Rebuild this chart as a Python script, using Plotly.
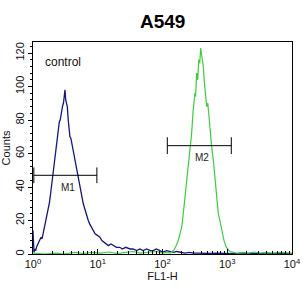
import math
import plotly.graph_objects as go

# ---- data ----
control_fl1 = [1.0, 1.02, 1.035, 1.07, 1.1, 1.14, 1.2, 1.26, 1.33, 1.38, 1.44, 1.5, 1.58, 1.64, 1.72, 1.8, 1.87,
               1.95, 2.03, 2.1, 2.19, 2.27, 2.35, 2.46, 2.55, 2.63, 2.7, 2.77, 2.85, 2.95, 3.03, 3.12, 3.2, 3.3,
               3.39, 3.5, 3.6, 3.72, 3.85, 3.98, 4.1, 4.19, 4.32, 4.47, 4.6, 4.73, 5.0, 5.32, 5.6, 5.98, 6.3,
               6.7, 7.14, 7.5, 7.94, 8.2, 8.53, 9.1, 10.0, 10.8, 11.6, 12.6, 13.5, 14.6, 16.0, 17.8, 19.5,
               21.9, 24.0, 27.0, 31.6, 35.0, 40.0, 44.7, 50.0, 57.0, 64.6, 72.0, 80.0, 91.2, 100.0, 115.0,
               132.0, 150.0, 165.0, 186.0, 220.0, 260.0, 300.0, 380.0, 500.0, 700.0, 1096.0, 1500.0, 2500.0,
               4000.0, 6000.0, 10000.0]
control_counts = [14, 6, 1, 3, 2, 4.4, 6, 8, 10, 9, 12.5, 15, 18, 22, 26, 31, 36,
                  42, 47, 53, 58, 63, 70, 74, 79, 80, 83, 84, 88, 90, 95, 98, 92, 90,
                  88, 80, 76, 70, 69, 66, 62, 60, 58, 55, 52, 50, 45, 40, 36, 30, 27,
                  23, 20, 18, 16, 15, 14, 12, 11, 10, 8, 7, 6, 5, 6, 5, 4,
                  4, 3, 4, 3, 3, 2, 3, 2, 3, 2, 2, 3, 2, 1, 2,
                  1.5, 1, 1.5, 1, 0.5, 1, 0.5, 0.5, 0.3, 0.5, 0.3, 0, 0.3,
                  0, 0.3, 0]

a549_fl1 = [1.0, 1.5, 2.2, 3.0, 4.5, 6.0, 8.0, 11.0, 15.0, 20.0, 27.0, 35.0, 45.0, 60.0, 80.0, 100.0,
            118.0, 130.6, 141.0, 150.7, 162.0, 175.0, 186.0, 198.0, 209.0, 222.0, 232.0, 242.0, 257.0,
            266.0, 282.0, 295.0, 307.0, 316.0, 324.0, 337.0, 350.0, 363.0, 376.0, 389.0, 398.0, 407.0,
            427.0, 440.0, 457.0, 482.0, 501.0, 528.0, 550.0, 575.0, 617.0, 647.0, 690.0, 728.0, 770.0,
            820.0, 891.0, 957.0, 1030.0, 1104.0, 1250.0, 1400.0, 1700.0, 2100.0, 2600.0, 3200.0,
            4000.0, 5000.0, 6500.0, 8000.0, 10000.0]
a549_counts = [0.5, 0, 0.5, 0, 1, 0.3, 1, 0.5, 1.2, 0.3, 1, 1.5, 0.5, 1, 1.5, 0.5,
               1, 0.6, 1.5, 2.4, 5, 8, 12, 16, 24, 34, 40, 48, 58,
               64, 72, 84, 92, 96, 94, 108, 104, 116, 114, 123, 120, 118,
               112, 104, 98, 88, 90, 78, 72, 64, 54, 44, 36, 24, 20,
               14, 8, 4.4, 2.5, 1.4, 1, 0.6, 1, 0.5, 1.2, 0.6,
               1, 0.5, 1, 0.6, 0.5]

marker_names = ["M1", "M2"]
marker_left = [1.03, 118.6]
marker_right = [9.7, 1155.0]
marker_level = [47, 64.7]
marker_cap = [4.7, 5.0]
marker_label_x = [3.5, 412.0]
marker_label_y = [40, 57.7]

x_ticks = [1, 10, 100, 1000, 10000]
x_ticktext = ["10<sup>0</sup>", "10<sup>1</sup>", "10<sup>2</sup>", "10<sup>3</sup>", "10<sup>4</sup>"]
x_minor = [2, 3, 4, 5, 6, 7, 8, 9, 20, 30, 40, 50, 60, 70, 80, 90, 200, 300, 400, 500, 600, 700, 800, 900,
           2000, 3000, 4000, 5000, 6000, 7000, 8000, 9000]
y_ticks = [0, 20, 40, 60, 80, 100, 120]

FONT = "Arial, Liberation Sans, sans-serif"

fig = go.Figure()
fig.add_trace(go.Scatter(x=control_fl1, y=control_counts, mode="lines",
                         line=dict(color="#15157f", width=1.3), showlegend=False, hoverinfo="skip"))
fig.add_trace(go.Scatter(x=a549_fl1, y=a549_counts, mode="lines",
                         line=dict(color="#3fcc3f", width=1.2), showlegend=False, hoverinfo="skip"))

shapes = []
annotations = []
for i, name in enumerate(marker_names):
    shapes.append(dict(type="line", xref="x", yref="y", x0=marker_left[i], x1=marker_right[i],
                       y0=marker_level[i], y1=marker_level[i], line=dict(color="black", width=1)))
    for xe in (marker_left[i], marker_right[i]):
        shapes.append(dict(type="line", xref="x", yref="y", x0=xe, x1=xe,
                           y0=marker_level[i] - marker_cap[i], y1=marker_level[i] + marker_cap[i],
                           line=dict(color="black", width=1)))
    annotations.append(dict(x=math.log10(marker_label_x[i]), y=marker_label_y[i], xref="x", yref="y",
                            text=name, showarrow=False,
                            font=dict(family=FONT, size=10, color="#222")))

annotations.append(dict(x=0.04, y=0.905, xref="paper", yref="paper", text="control", showarrow=False,
                        xanchor="left", yanchor="middle",
                        font=dict(family=FONT, size=12, color="#111")))
annotations.append(dict(x=0.5, y=1.0, xref="paper", yref="paper", yshift=8, text="<b>A549</b>",
                        showarrow=False, xanchor="center", yanchor="bottom",
                        font=dict(family=FONT, size=19, color="black")))

fig.update_layout(
    width=306, height=289,
    margin=dict(l=33, r=14, t=42, b=35),
    paper_bgcolor="white", plot_bgcolor="white",
    shapes=shapes, annotations=annotations,
    font=dict(family=FONT, color="#111"),
    xaxis=dict(type="log", range=[0, 4], tickvals=x_ticks, ticktext=x_ticktext, automargin=False,
               showline=True, linecolor="black", linewidth=1, mirror=True, showgrid=False,
               zeroline=False, ticks="inside", ticklen=5, tickcolor="black",
               tickfont=dict(size=11, color="#111"),
               minor=dict(tickmode="array", tickvals=x_minor, ticks="inside", ticklen=3,
                          tickcolor="black", showgrid=False),
               title=dict(text="FL1-H", font=dict(size=11, color="#111"), standoff=0)),
    yaxis=dict(range=[0, 126.6], tickvals=y_ticks, tickangle=-90, automargin=False,
               showline=True, linecolor="black", linewidth=1, mirror=True, showgrid=False,
               zeroline=False, ticks="outside", ticklen=4, tickcolor="black",
               tickfont=dict(size=11, color="#111"),
               minor=dict(dtick=4, ticks="outside", ticklen=2, tickcolor="black", showgrid=False),
               title=dict(text="Counts", font=dict(size=11, color="#111"), standoff=0)),
)

fig.write_html("out.html")
